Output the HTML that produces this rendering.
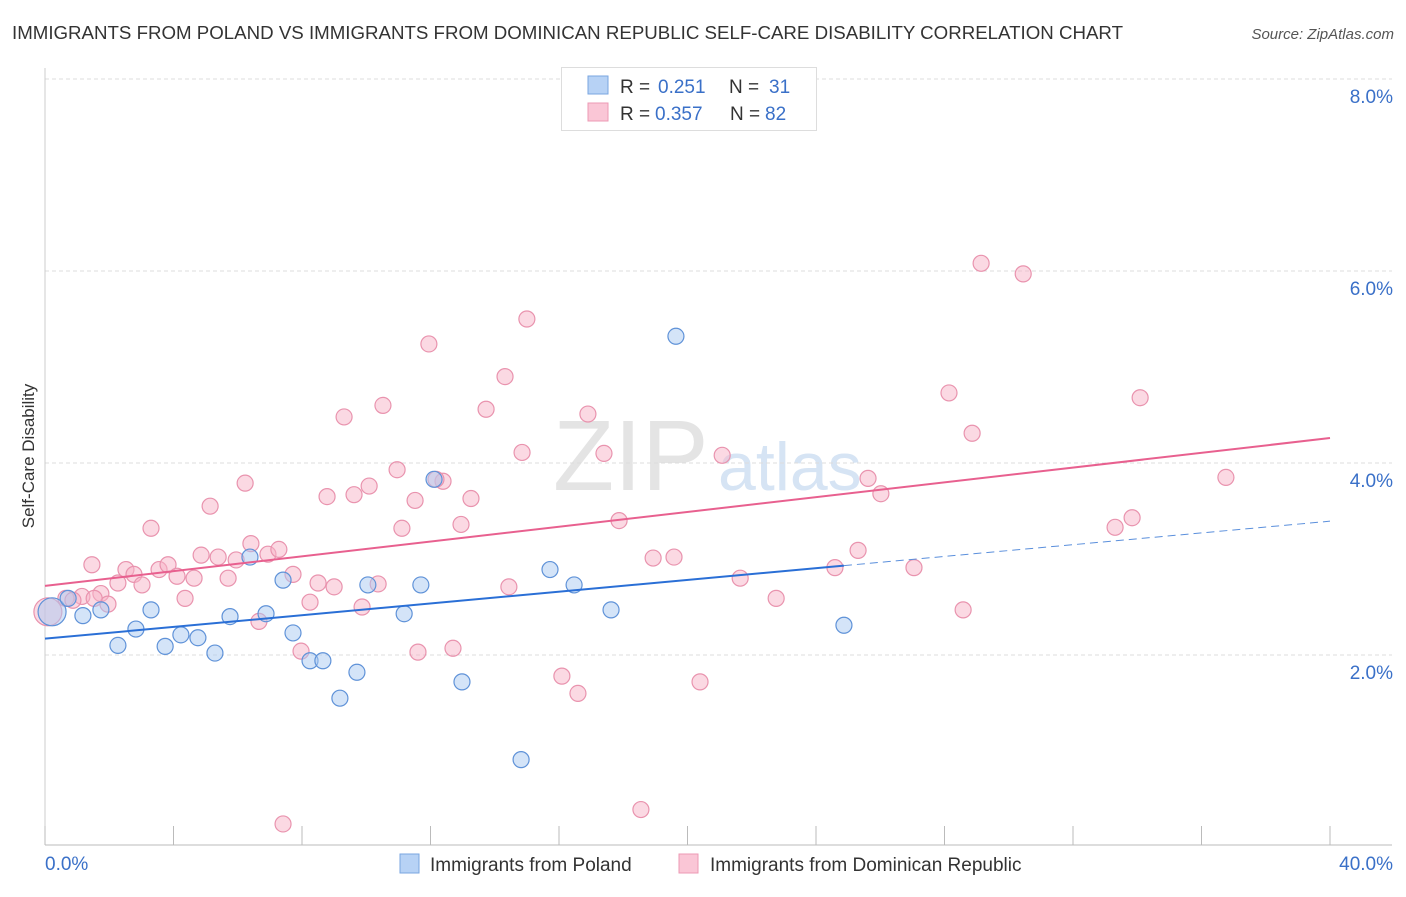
<!DOCTYPE html>
<html><head><meta charset="utf-8"><style>
body{margin:0;background:#fff;font-family:"Liberation Sans",sans-serif}
svg text{font-family:"Liberation Sans",sans-serif}
</style></head><body>
<svg id="chart" width="1406" height="892" xmlns="http://www.w3.org/2000/svg">
<text x="12" y="39" font-size="18.7" fill="#333">IMMIGRANTS FROM POLAND VS IMMIGRANTS FROM DOMINICAN REPUBLIC SELF-CARE DISABILITY CORRELATION CHART</text>
<text x="1394" y="39" font-size="15" fill="#555" font-style="italic" text-anchor="end">Source: ZipAtlas.com</text>
<text x="553" y="490" font-size="100" fill="#e4e4e4" font-family="Liberation Serif">ZIP</text>
<text x="718" y="490" font-size="68" fill="#d6e4f4">atlas</text>
<text transform="translate(34,456) rotate(-90)" font-size="17" fill="#333" text-anchor="middle">Self-Care Disability</text>
<g id="grid"></g><g id="axes"></g><g id="marks"></g>
<g>
<rect x="561.5" y="67.5" width="255" height="63" fill="#fff" stroke="#ddd"/>
<rect x="588" y="76" width="20" height="18" fill="#b7d2f5" stroke="#7aa6e0"/>
<text x="620" y="93" font-size="19" fill="#333">R = </text><text x="658" y="93" font-size="19" fill="#3a70c8">0.251</text>
<text x="729" y="93" font-size="19" fill="#333">N = </text><text x="769" y="93" font-size="19" fill="#3a70c8">31</text>
<rect x="588" y="103" width="20" height="18" fill="#fac6d6" stroke="#ec9ab4"/>
<text x="620" y="120" font-size="19" fill="#333">R = </text><text x="655" y="120" font-size="19" fill="#3a70c8">0.357</text>
<text x="730" y="120" font-size="19" fill="#333">N = </text><text x="765" y="120" font-size="19" fill="#3a70c8">82</text>
</g>
<g>
<rect x="400" y="854" width="19" height="19" fill="#b7d2f5" stroke="#7aa6e0"/>
<text x="430" y="871" font-size="19" fill="#333">Immigrants from Poland</text>
<rect x="679" y="854" width="19" height="19" fill="#fac6d6" stroke="#ec9ab4"/>
<text x="710" y="871" font-size="19" fill="#333">Immigrants from Dominican Republic</text>
</g>
</svg>
<script>
const yTicks=[2,4,6,8];
const yTickLabels=["2.0%","4.0%","6.0%","8.0%"];
const xTickVals=[0,4,8,12,16,20,24,28,32,36,40];
const xEndLabels=["0.0%","40.0%"];
const polandX=[0.22,0.72,1.18,1.74,2.27,2.83,3.30,3.74,4.23,4.76,5.29,5.76,6.38,6.88,7.41,7.72,8.25,8.65,9.18,9.71,10.05,11.18,11.70,12.11,12.98,14.82,15.72,16.47,17.62,19.64,24.87];
const polandY=[2.45,2.59,2.41,2.47,2.10,2.27,2.47,2.09,2.21,2.18,2.02,2.40,3.02,2.43,2.78,2.23,1.94,1.94,1.55,1.82,2.73,2.43,2.73,3.83,1.72,0.91,2.89,2.73,2.47,5.32,2.31];
const domX=[0.09,0.65,1.15,1.46,1.74,1.96,2.27,2.52,2.77,3.02,3.30,3.55,3.83,4.11,4.36,4.64,4.86,5.14,5.39,5.70,5.95,6.23,6.41,6.66,6.94,7.28,7.72,7.97,8.25,8.50,8.78,9.00,9.31,9.62,9.87,10.09,10.37,10.52,10.96,11.11,11.52,11.61,11.95,12.39,12.70,12.95,13.26,13.73,14.32,14.44,14.85,15.00,16.09,16.59,16.90,17.40,17.87,18.55,18.93,19.58,20.39,21.08,21.64,22.76,24.59,25.31,25.62,26.02,27.05,28.14,28.58,28.86,29.14,30.45,33.31,33.84,34.09,36.76,7.41,12.17,1.53,0.87];
const domY=[2.45,2.59,2.61,2.94,2.64,2.53,2.75,2.89,2.84,2.73,3.32,2.89,2.94,2.82,2.59,2.80,3.04,3.55,3.02,2.80,2.99,3.79,3.16,2.35,3.05,3.10,2.84,2.04,2.55,2.75,3.65,2.71,4.48,3.67,2.50,3.76,2.74,4.60,3.93,3.32,3.61,2.03,5.24,3.81,2.07,3.36,3.63,4.56,4.90,2.71,4.11,5.50,1.78,1.60,4.51,4.10,3.40,0.39,3.01,3.02,1.72,4.08,2.80,2.59,2.91,3.09,3.84,3.68,2.91,4.73,2.47,4.31,6.08,5.97,3.33,3.43,4.68,3.85,0.24,3.83,2.59,2.57];
const polandTrend=[2.17,0.0306]; // intercept, slope
const polandTrendEnd=[24.87,40];
const domTrend=[2.72,0.0385];
const NS="http://www.w3.org/2000/svg";
const X=v=>45+v/40*1285, Y=v=>847-v*96;
function mk(t,a,p){const e=document.createElementNS(NS,t);for(const k in a)e.setAttribute(k,a[k]);p.appendChild(e);return e;}
const grid=document.getElementById('grid'),axes=document.getElementById('axes'),marks=document.getElementById('marks');
yTicks.forEach((v,i)=>{
 const l=mk('line',{x1:45,x2:1392,y1:Y(v),y2:Y(v),stroke:'#ddd','stroke-dasharray':'4,3'},grid);
 
 
 const t=mk('text',{x:1393,y:Y(v)+24,'font-size':19,fill:'#3a70c8','text-anchor':'end'},axes);t.textContent=yTickLabels[i];
 
 
});
const ax=mk('line',{x1:45,x2:1392,y1:845,y2:845,stroke:'#bbb'},axes);


const ay=mk('line',{x1:45,x2:45,y1:68,y2:845,stroke:'#ccc'},axes);


xTickVals.forEach(v=>{const l=mk('line',{x1:X(v),x2:X(v),y1:826,y2:845,stroke:'#bbb'},axes);
 
 });
const t0=mk('text',{x:45,y:870,'font-size':19,fill:'#3a70c8'},axes);t0.textContent=xEndLabels[0];


const t1=mk('text',{x:1393,y:870,'font-size':19,fill:'#3a70c8','text-anchor':'end'},axes);t1.textContent=xEndLabels[1];


function pts(xs,ys,fill,stroke,name){xs.forEach((x,i)=>{const r=(i===0)?14:8;
 const c=mk('circle',{cx:X(x),cy:Y(ys[i]),r:r,fill:fill,'fill-opacity':0.5,stroke:stroke,'stroke-width':1.2},marks);
 
 });}
pts(domX,domY,'#f7b3c8','#e993ae','point-dominican');
pts(polandX,polandY,'#a9c9f2','#5f92d8','point-poland');
const lp=mk('line',{x1:X(0),y1:Y(domTrend[0]),x2:X(40),y2:Y(domTrend[0]+domTrend[1]*40),stroke:'#e8608f','stroke-width':2},marks);


const e=polandTrendEnd[0];
const lb=mk('line',{x1:X(0),y1:Y(polandTrend[0]),x2:X(e),y2:Y(polandTrend[0]+polandTrend[1]*e),stroke:'#2a6fd6','stroke-width':2},marks);


const e2=polandTrendEnd[1];
const ld=mk('line',{x1:X(e),y1:Y(polandTrend[0]+polandTrend[1]*e),x2:X(e2),y2:Y(polandTrend[0]+polandTrend[1]*e2),stroke:'#5a8fdc','stroke-width':1,'stroke-dasharray':'8,5'},marks);


</script>
</body></html>
